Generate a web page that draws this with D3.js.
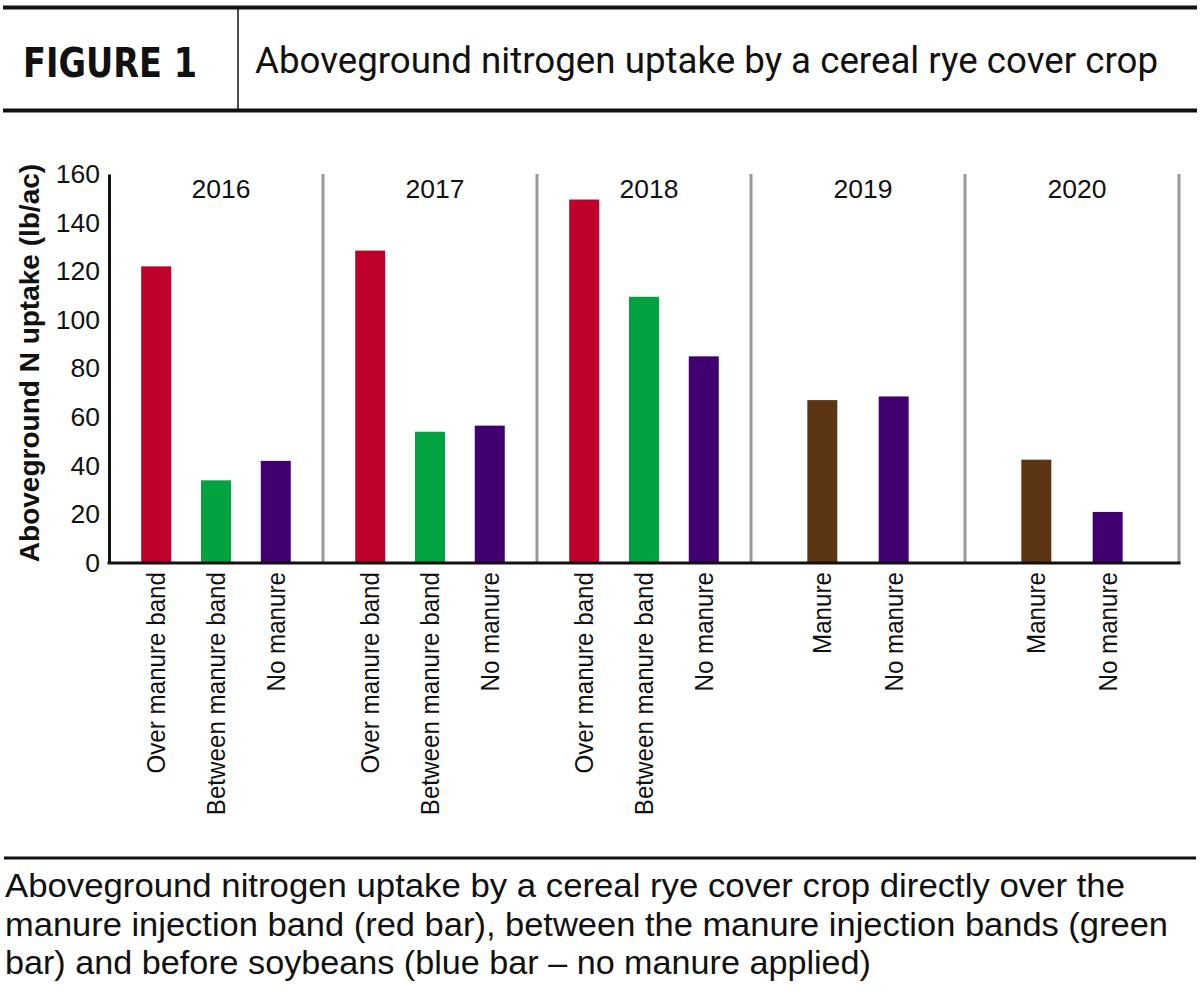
<!DOCTYPE html>
<html>
<head>
<meta charset="utf-8">
<script src="https://cdn.jsdelivr.net/npm/d3@7"></script>
<style>
  body { margin: 0; background: #fff; }
  svg { display: block; }
</style>
</head>
<body>
<div id="chart"></div>
<script>
// values (lb N/ac)
var years = ["2016", "2017", "2018", "2019", "2020"];
var labels3 = ["Over manure band", "Between manure band", "No manure"];
var labels2 = ["Manure", "No manure"];
var values2016 = [122, 34, 42];
var values2017 = [128.5, 54, 56.5];
var values2018 = [149.5, 109.5, 85];
var values2019 = [67, 68.5];
var values2020 = [42.5, 21];
var yTicks = [0, 20, 40, 60, 80, 100, 120, 140, 160];

var captionLines = [
    "Aboveground nitrogen uptake by a cereal rye cover crop directly over the",
    "manure injection band (red bar), between the manure injection bands (green",
    "bar) and before soybeans (blue bar \u2013 no manure applied)"
];
var captionWidths = [1120, 1163, 866];

var groups = [
    { year: years[0], labels: labels3, values: values2016 },
    { year: years[1], labels: labels3, values: values2017 },
    { year: years[2], labels: labels3, values: values2018 },
    { year: years[3], labels: labels2, values: values2019 },
    { year: years[4], labels: labels2, values: values2020 }
];

var color = d3.scaleOrdinal()
    .domain(["Over manure band", "Between manure band", "No manure", "Manure"])
    .range(["#bf002b", "#00a33f", "#410070", "#5c3513"]);

var width = 1200, height = 994;
var font = "'Liberation Sans', Arial, Helvetica, sans-serif";

var svg = d3.select("#chart").append("svg")
    .attr("width", width)
    .attr("height", height);

// ---- header ----
svg.append("line").attr("x1", 3).attr("x2", 1197).attr("y1", 7.5).attr("y2", 7.5)
    .attr("stroke", "#111").attr("stroke-width", 4);
svg.append("line").attr("x1", 3).attr("x2", 1197).attr("y1", 110.5).attr("y2", 110.5)
    .attr("stroke", "#111").attr("stroke-width", 4);
svg.append("line").attr("x1", 238).attr("x2", 238).attr("y1", 9).attr("y2", 109)
    .attr("stroke", "#111").attr("stroke-width", 1.5);

svg.append("text")
    .attr("x", 23).attr("y", 77)
    .attr("textLength", 174).attr("lengthAdjust", "spacingAndGlyphs")
    .style("font-family", "'DejaVu Sans', sans-serif")
    .style("font-weight", "bold")
    .style("font-size", "41px")
    .style("fill", "#111")
    .text("FIGURE 1");

svg.append("text")
    .attr("x", 255).attr("y", 73)
    .attr("textLength", 903).attr("lengthAdjust", "spacingAndGlyphs")
    .style("font-family", "Roboto, sans-serif")
    .style("font-size", "37px")
    .style("fill", "#111")
    .text("Aboveground nitrogen uptake by a cereal rye cover crop");

// ---- chart ----
var y = d3.scaleLinear().domain([0, 160]).range([563, 174]);

var x = d3.scaleBand()
    .domain(years)
    .range([109, 1179])
    .padding(0);

var barWidth = 30;

// panel dividers
svg.append("g").selectAll("line")
    .data(years)
    .enter().append("line")
    .attr("x1", function(d) { return x(d) + x.bandwidth(); })
    .attr("x2", function(d) { return x(d) + x.bandwidth(); })
    .attr("y1", y(160))
    .attr("y2", y(0))
    .attr("stroke", "#999")
    .attr("stroke-width", 3);

// year labels
svg.append("g").selectAll("text")
    .data(years)
    .enter().append("text")
    .attr("x", function(d) { return x(d) + x.bandwidth() / 2 + 5; })
    .attr("y", 198)
    .attr("text-anchor", "middle")
    .style("font-family", font)
    .style("font-size", "26.5px")
    .style("fill", "#111")
    .text(function(d) { return d; });

// bars + category labels per year
groups.forEach(function(grp) {
    var inner = d3.scalePoint()
        .domain(grp.labels)
        .range([x(grp.year), x(grp.year) + x.bandwidth()])
        .padding(grp.labels.length === 3 ? 0.79 : 1);

    var g = svg.append("g").attr("class", "group");

    g.selectAll("rect")
        .data(grp.labels)
        .enter().append("rect")
        .attr("x", function(d) { return inner(d) - barWidth / 2; })
        .attr("width", barWidth)
        .attr("y", function(d, i) { return y(grp.values[i]); })
        .attr("height", function(d, i) { return y(0) - y(grp.values[i]); })
        .style("fill", function(d) { return color(d); });

    // slightly condensed, like the original typeface
    g.selectAll("text")
        .data(grp.labels)
        .enter().append("text")
        .attr("transform", function(d) { return "translate(" + inner(d) + ",572) rotate(-90) scale(0.93,1)"; })
        .attr("dy", "0.35em")
        .attr("text-anchor", "end")
        .style("font-family", font)
        .style("font-size", "26px")
        .style("fill", "#111")
        .text(function(d) { return d; });
});

// y axis
var yAxis = d3.axisLeft(y)
    .tickValues(yTicks)
    .tickSize(0)
    .tickPadding(9);

var ax = svg.append("g")
    .attr("transform", "translate(109,0)")
    .call(yAxis);
ax.select(".domain").attr("stroke", "#111").attr("stroke-width", 3);
ax.selectAll("text")
    .style("font-family", font)
    .style("font-size", "26.5px")
    .style("fill", "#111");

// x baseline
svg.append("line")
    .attr("x1", 107.5).attr("x2", 1180.5)
    .attr("y1", y(0)).attr("y2", y(0))
    .attr("stroke", "#111").attr("stroke-width", 3);

// y title
svg.append("text")
    .attr("transform", "translate(39,363) rotate(-90)")
    .attr("text-anchor", "middle")
    .style("font-family", font)
    .style("font-weight", "bold")
    .style("font-size", "28px")
    .style("fill", "#111")
    .text("Aboveground N uptake (lb/ac)");

// ---- caption ----
svg.append("line").attr("x1", 4).attr("x2", 1196).attr("y1", 858).attr("y2", 858)
    .attr("stroke", "#111").attr("stroke-width", 3);

svg.append("g").selectAll("text")
    .data(captionLines)
    .enter().append("text")
    .attr("x", 5)
    .attr("y", function(d, i) { return 897 + i * 38.5; })
    .attr("textLength", function(d, i) { return captionWidths[i]; })
    .attr("lengthAdjust", "spacingAndGlyphs")
    .style("font-family", font)
    .style("font-size", "33px")
    .style("fill", "#111")
    .text(function(d) { return d; });
</script>
</body>
</html>
